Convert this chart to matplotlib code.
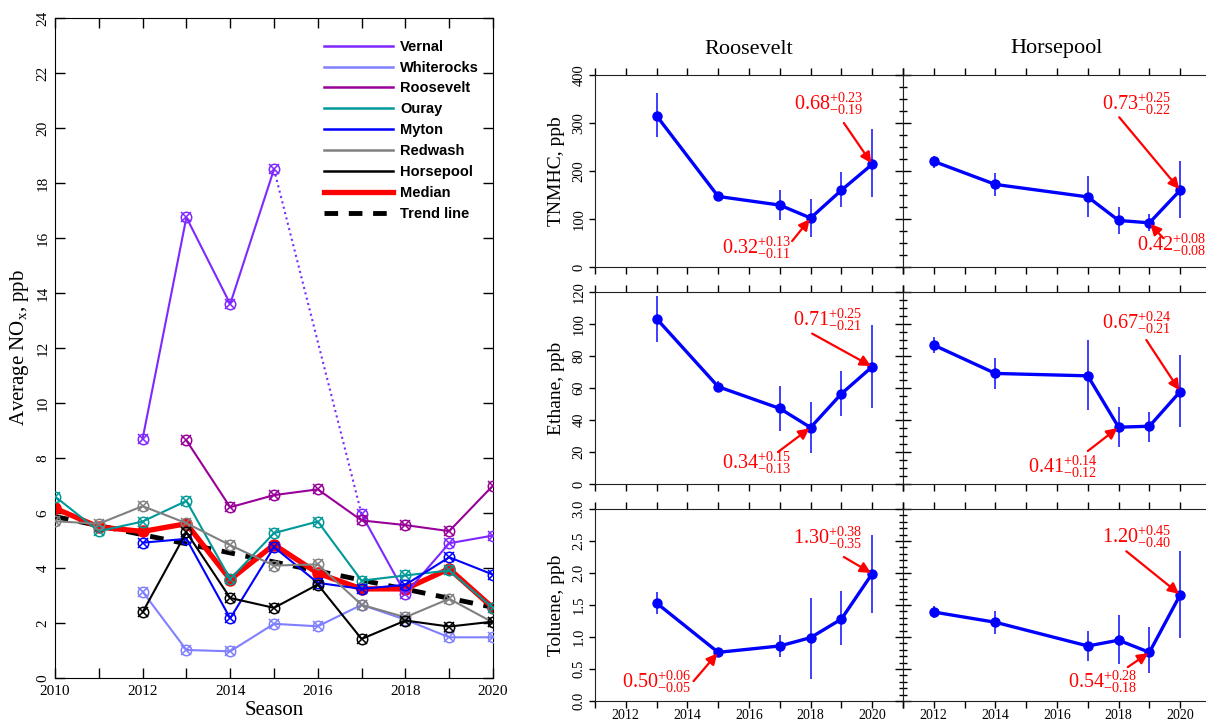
import matplotlib
matplotlib.use('Agg')
import matplotlib.pyplot as plt
from matplotlib.ticker import MultipleLocator, FuncFormatter, NullFormatter
from matplotlib.lines import Line2D

plt.rcParams['font.family'] = ['Liberation Serif', 'DejaVu Serif']
plt.rcParams['mathtext.fontset'] = 'custom'
plt.rcParams['mathtext.rm'] = 'Liberation Serif'
plt.rcParams['mathtext.it'] = 'Liberation Serif:italic'
plt.rcParams['mathtext.bf'] = 'Liberation Serif:bold'

# ---- left panel: seasonal average NOx per site ----
years_all = [2010, 2011, 2012, 2013, 2014, 2015, 2016, 2017, 2018, 2019, 2020]
yrs_12 = [2012, 2013, 2014, 2015, 2016, 2017, 2018, 2019, 2020]
yrs_13 = [2013, 2014, 2015, 2016, 2017, 2018, 2019, 2020]

vernal_yr = [2012, 2013, 2014, 2015, 2017, 2018, 2019, 2020]
vernal = [8.7, 16.75, 13.6, 18.5, 5.95, 3.06, 4.9, 5.18]
whiterocks = [3.14, 1.02, 0.97, 1.97, 1.88, 2.66, 2.12, 1.48, 1.48]
roosevelt = [8.64, 6.21, 6.65, 6.86, 5.73, 5.56, 5.34, 7.0]
ouray = [6.6, 5.34, 5.69, 6.44, 3.6, 5.27, 5.69, 3.54, 3.73, 3.91, 2.55]
myton = [4.92, 5.06, 2.17, 4.76, 3.46, 3.24, 3.39, 4.39, 3.76]
redwash = [5.70, 5.61, 6.25, 5.63, 4.83, 4.09, 4.13, 2.66, 2.21, 2.88, 2.02]
horsepool = [2.39, 5.3, 2.91, 2.55, 3.40, 1.42, 2.09, 1.87, 2.05]
median = [6.17, 5.49, 5.33, 5.61, 3.58, 4.85, 3.81, 3.24, 3.24, 3.97, 2.55]
trend_yr = [2010, 2020]
trend = [5.87, 2.57]

site_names = ['Vernal', 'Whiterocks', 'Roosevelt', 'Ouray', 'Myton',
              'Redwash', 'Horsepool']
site_colors = ['#7f27ff', '#8080ff', '#990099', '#009999', '#0000ff',
               '#808080', '#000000']

# ---- right panels: VOC with error ranges ----
roos_yr = [2013, 2015, 2017, 2018, 2019, 2020]
horse_yr = [2012, 2014, 2017, 2018, 2019, 2020]

tnmhc_roos = [315, 147, 129, 102, 160, 214]
tnmhc_roos_lo = [270, 140, 97, 62, 124, 145]
tnmhc_roos_hi = [363, 154, 161, 141, 197, 288]
tnmhc_horse = [220, 172, 146, 97, 92, 160]
tnmhc_horse_lo = [207, 148, 104, 69, 74, 102]
tnmhc_horse_hi = [232, 196, 190, 126, 110, 221]

ethane_roos = [103.3, 60.8, 47.2, 35.3, 56.4, 73.3]
ethane_roos_lo = [89, 57.2, 33.4, 19.6, 42.6, 47.8]
ethane_roos_hi = [117.7, 64.5, 61.4, 51.4, 70.8, 99.6]
ethane_horse = [86.8, 69.1, 67.6, 35.5, 36.1, 57.8]
ethane_horse_lo = [81.8, 59.3, 46.3, 23, 26.5, 35.9]
ethane_horse_hi = [91.9, 78.9, 90.2, 48, 45.3, 80.8]

toluene_roos = [1.53, 0.76, 0.86, 0.99, 1.28, 1.99]
toluene_roos_lo = [1.36, 0.73, 0.68, 0.35, 0.87, 1.38]
toluene_roos_hi = [1.70, 0.80, 1.03, 1.61, 1.72, 2.60]
toluene_horse = [1.39, 1.23, 0.86, 0.95, 0.76, 1.66]
toluene_horse_lo = [1.30, 1.05, 0.63, 0.58, 0.44, 0.99]
toluene_horse_hi = [1.49, 1.41, 1.10, 1.35, 1.15, 2.35]

# ratio labels: (value, plus, minus, point index, text xy, arrow tail xy)
ann_tnmhc_roos = [('0.68', '0.23', '0.19', 5, (2018.6, 340), (2019.08, 300)),
                  ('0.32', '0.13', '0.11', 3, (2016.26, 40), (2017.4, 54))]
ann_tnmhc_horse = [('0.73', '0.25', '0.22', 5, (2018.6, 340), (2018.02, 312)),
                   ('0.42', '0.08', '0.08', 4, (2019.72, 46), (2019.45, 60))]
ann_ethane_roos = [('0.71', '0.25', '0.21', 5, (2018.56, 102.5), (2018.05, 94)),
                   ('0.34', '0.15', '0.13', 3, (2016.26, 13), (2016.94, 20))]
ann_ethane_horse = [('0.67', '0.24', '0.21', 5, (2018.6, 101), (2018.9, 90)),
                    ('0.41', '0.14', '0.12', 3, (2016.2, 11), (2017.0, 20.6))]
ann_toluene_roos = [('1.30', '0.38', '0.35', 5, (2018.56, 2.55), (2019.08, 2.25)),
                    ('0.50', '0.06', '0.05', 1, (2013.0, 0.30), (2014.2, 0.31))]
ann_toluene_horse = [('1.20', '0.45', '0.40', 5, (2018.6, 2.56), (2018.25, 2.34)),
                     ('0.54', '0.28', '0.18', 4, (2017.5, 0.30), (2018.3, 0.53))]

W, H = 1206, 721
fig = plt.figure(figsize=(W / 100, H / 100), dpi=100)


def px_rect(x0, y0, x1, y1):
    return [x0 / W, 1 - y1 / H, (x1 - x0) / W, (y1 - y0) / H]


def even_years(v, pos):
    v = int(round(v))
    return str(v) if v % 2 == 0 else ''


# ================= left panel =================
ax = fig.add_axes(px_rect(55, 18, 493, 678))


def site_plot(x, y, c, ls='-', zo=3):
    ax.plot(x, y, color=c, lw=1.5, ls=ls, marker='o', ms=7.5, mfc='none',
            mec=c, mew=1.1, zorder=zo)
    ax.plot(x, y, ls='none', color=c, marker='x', ms=6.5, mew=1.1, zorder=zo)


ax.plot(trend_yr, trend, color='black', lw=3.5, dashes=(2.8, 2.2), zorder=2)
ax.plot(years_all, median, color='#ff0000', lw=3.8, marker='o', ms=8,
        mfc='#ff0000', mec='#ff0000', zorder=2.5)

# Vernal has a gap in 2016, bridged with a dotted line
ax.plot(vernal_yr[:4], vernal[:4], color=site_colors[0], lw=1.5, zorder=3)
ax.plot(vernal_yr[3:5], vernal[3:5], color=site_colors[0], lw=1.5, ls=':', zorder=3)
ax.plot(vernal_yr[4:], vernal[4:], color=site_colors[0], lw=1.5, zorder=3)
ax.plot(vernal_yr, vernal, ls='none', marker='o', ms=7.5, mfc='none',
        mec=site_colors[0], mew=1.1, zorder=3)
ax.plot(vernal_yr, vernal, ls='none', marker='x', ms=6.5, color=site_colors[0],
        mew=1.1, zorder=3)

site_plot(yrs_12, whiterocks, site_colors[1])
site_plot(yrs_13, roosevelt, site_colors[2])
site_plot(years_all, ouray, site_colors[3])
site_plot(yrs_12, myton, site_colors[4])
site_plot(years_all, redwash, site_colors[5])
site_plot(yrs_12, horsepool, site_colors[6])

ax.set_xlim(2010, 2020)
ax.set_ylim(0, 24)
ax.xaxis.set_major_locator(MultipleLocator(1))
ax.xaxis.set_major_formatter(FuncFormatter(even_years))
ax.yaxis.set_major_locator(MultipleLocator(2))
ax.tick_params(direction='in', length=7, width=1, top=True, right=True,
               labelsize=11)
ax.tick_params(axis='x', pad=5)
ax.tick_params(axis='y', pad=4)
for lab in ax.get_yticklabels():
    lab.set_rotation(90)
    lab.set_va('center')
ax.set_xlabel('Season', fontsize=15, labelpad=2)
ax.set_ylabel(r'Average NO$_{\rm x}$, ppb', fontsize=15, labelpad=4)

handles = [Line2D([], [], color=c, lw=1.8) for c in site_colors]
handles.append(Line2D([], [], color='#ff0000', lw=3.8))
handles.append(Line2D([], [], color='black', lw=3.5, dashes=(2.8, 2.2)))
labels = site_names + ['Median', 'Trend line']
ax.legend(handles, labels, loc='upper left', bbox_to_anchor=(0.615, 0.967),
          frameon=False, borderpad=0, borderaxespad=0, handlelength=4.7,
          handletextpad=0.5, labelspacing=0.47,
          prop={'family': 'Liberation Sans', 'weight': 'bold', 'size': 10.5})

# ================= right panels =================
rows = [
    ('TNMHC, ppb', (0, 400), 100, 25,
     (tnmhc_roos, tnmhc_roos_lo, tnmhc_roos_hi, ann_tnmhc_roos),
     (tnmhc_horse, tnmhc_horse_lo, tnmhc_horse_hi, ann_tnmhc_horse), '%d'),
    ('Ethane, ppb', (0, 120), 20, 5,
     (ethane_roos, ethane_roos_lo, ethane_roos_hi, ann_ethane_roos),
     (ethane_horse, ethane_horse_lo, ethane_horse_hi, ann_ethane_horse), '%d'),
    ('Toluene, ppb', (0, 3.0), 0.5, 0.1,
     (toluene_roos, toluene_roos_lo, toluene_roos_hi, ann_toluene_roos),
     (toluene_horse, toluene_horse_lo, toluene_horse_hi, ann_toluene_horse), '%.1f'),
]
row_px = [(75, 267), (292, 484), (509, 701)]
col_px = [(595, 903), (903, 1211)]


def voc_panel(a, yrs, vals, lo, hi, anns):
    err = [[v - l for v, l in zip(vals, lo)], [h - v for v, h in zip(vals, hi)]]
    a.errorbar(yrs, vals, yerr=err, fmt='none', ecolor='#3030ff', elinewidth=1.3,
               capsize=0, zorder=2)
    a.plot(yrs, vals, color='#0000ff', lw=2.4, marker='o', ms=6.5, zorder=3)
    for val, plus, minus, idx, txy, tail in anns:
        a.text(txy[0], txy[1], r'$%s^{+%s}_{-%s}$' % (val, plus, minus),
               color='#ff0000', fontsize=14.5, ha='center', va='center', zorder=5)
        a.annotate('', xy=(yrs[idx], vals[idx]), xytext=tail,
                   arrowprops=dict(arrowstyle='-|>', color='#ff0000', lw=1.6,
                                   mutation_scale=16, shrinkA=0, shrinkB=1),
                   zorder=4)


for r, (ylab, ylim, major, minor, rdat, hdat, fmt) in enumerate(rows):
    y0, y1 = row_px[r]
    for c, (dat, yrs) in enumerate([(rdat, roos_yr), (hdat, horse_yr)]):
        x0, x1 = col_px[c]
        a = fig.add_axes(px_rect(x0, y0, x1, y1))
        voc_panel(a, yrs, dat[0], dat[1], dat[2], dat[3])
        a.set_xlim(2011, 2021)
        a.set_ylim(*ylim)
        a.xaxis.set_major_locator(MultipleLocator(1))
        a.yaxis.set_major_locator(MultipleLocator(major))
        a.yaxis.set_minor_locator(MultipleLocator(minor))
        a.tick_params(axis='x', direction='out', length=5, width=1, top=True,
                      bottom=True, labelsize=10, pad=1)
        if r == 2:
            a.xaxis.set_major_formatter(FuncFormatter(even_years))
        else:
            a.xaxis.set_major_formatter(NullFormatter())
        if c == 0:
            a.tick_params(axis='y', which='major', direction='out', length=4,
                          width=1, left=True, right=False, labelsize=10.5, pad=3)
            a.tick_params(axis='y', which='minor', left=False, right=False)
            a.yaxis.set_major_formatter(FuncFormatter(lambda v, p, f=fmt: f % v))
            for lab in a.get_yticklabels():
                lab.set_rotation(90)
                lab.set_va('center')
            a.set_ylabel(ylab, fontsize=14)
            a.yaxis.set_label_coords(-0.098, 0.5)
        else:
            a.tick_params(axis='y', which='major', direction='inout', length=12,
                          width=1, left=True, right=False, labelleft=False)
            a.tick_params(axis='y', which='minor', direction='inout', length=6,
                          width=1, left=True, right=False)
        for s in a.spines.values():
            s.set_color('#222222')

fig.text(749 / W, 1 - 50 / H, 'Roosevelt', fontsize=16, ha='center', va='center')
fig.text(1057 / W, 1 - 48 / H, 'Horsepool', fontsize=16, ha='center', va='center')

fig.savefig('out.png', dpi=100)
